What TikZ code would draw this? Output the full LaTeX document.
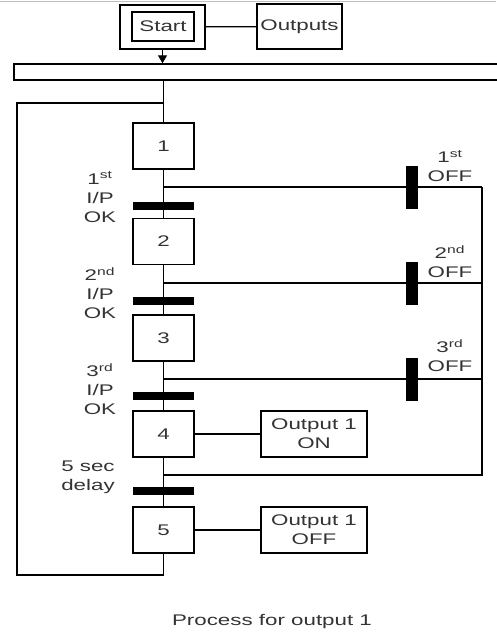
\documentclass[tikz,border=0pt]{standalone}
\usepackage{fontspec}
\setmainfont{Liberation Sans}
\usetikzlibrary{arrows.meta}

\begin{document}
\begin{tikzpicture}[x=1pt, y=-1pt,
    every node/.style={text=black!80, font=\fontsize{15.4}{19}\selectfont},
    box/.style={draw, line width=1.5pt, inner sep=0pt, xscale=1.45},
    stepbox/.style={box, minimum width=42pt, minimum height=46pt},
    outbox/.style={box, align=center, minimum width=73.1pt, minimum height=46pt},
    tbar/.style={fill=black, inner sep=0pt, minimum width=61pt, minimum height=8pt},
    offbar/.style={fill=black, inner sep=0pt, minimum width=12pt, minimum height=43pt},
    lbl/.style={align=center, inner sep=0pt, xscale=1.45},
    wire/.style={line width=1.3pt}]
   \useasboundingbox (0,0) rectangle (496,632);
   \draw[gray!50] (0,1) -- (496,1);

   \node[box, minimum width=58.6pt, minimum height=44pt] (start) at (162.5,27) {};
   \node[box, minimum width=42.8pt, minimum height=29pt] (startlbl) at (163,26.5) {Start};
   \node[box, minimum width=58.6pt, minimum height=45pt] (outputs) at (299.5,26.5) {Outputs};
   \node[draw, line width=1.5pt, inner sep=0pt, anchor=west,
         minimum width=530pt, minimum height=16pt] (sync) at (13,72) {};

   \node[stepbox] (s1) at (163.5,146) {1};
   \node[stepbox] (s2) at (163.5,241.5) {2};
   \node[stepbox] (s3) at (163.5,338) {3};
   \node[stepbox] (s4) at (163.5,434) {4};
   \node[stepbox] (s5) at (163.5,530) {5};

   \node[tbar] (t1) at (163.5,206) {};
   \node[tbar] (t2) at (163.5,301) {};
   \node[tbar] (t3) at (163.5,396) {};
   \node[tbar] (t4) at (163.5,491) {};

   \node[offbar] (o1) at (412,187) {};
   \node[offbar] (o2) at (412,283) {};
   \node[offbar] (o3) at (412,379) {};

   \node[outbox] (on)  at (314,434) {Output 1\\ON};
   \node[outbox] (off) at (314,530) {Output 1\\OFF};

   \node[lbl] (l1) at (100,197) {1\textsuperscript{st}\\I/P\\OK};
   \node[lbl] (l2) at (100,293) {2\textsuperscript{nd}\\I/P\\OK};
   \node[lbl] (l3) at (100,389) {3\textsuperscript{rd}\\I/P\\OK};
   \node[lbl] (l4) at (88,477.5) {5 sec\\delay};
   \node[lbl] (f1) at (450,166) {1\textsuperscript{st}\\OFF};
   \node[lbl] (f2) at (450,262) {2\textsuperscript{nd}\\OFF};
   \node[lbl] (f3) at (450,356) {3\textsuperscript{rd}\\OFF};
   \node[lbl] (caption) at (272,622) {Process for output 1};

   \coordinate (b1) at (163.5,187);
   \coordinate (b2) at (163.5,283);
   \coordinate (b3) at (163.5,379);
   \coordinate (j4) at (163.5,475);
   \coordinate (r1) at (482,187);
   \coordinate (r2) at (482,283);
   \coordinate (r3) at (482,379);
   \coordinate (r4) at (482,475);
   \coordinate (looptr) at (163.5,103);
   \coordinate (looptl) at (17,103);
   \coordinate (loopbl) at (17,575);
   \coordinate (loopbr) at (163.5,575);

   \draw[wire] (start) to (outputs);
   \draw[wire, -{Triangle[width=9pt,length=8pt]}] (start) to (start |- sync.north);
   \draw[wire] (sync.south -| s1.north) to (s1);
   \draw[wire] (s1) to (s2);
   \draw[wire] (s2) to (s3);
   \draw[wire] (s3) to (s4);
   \draw[wire] (s4) to (s5);
   \draw[wire] (b1) -- (o1) -- (r1);
   \draw[wire] (b2) -- (o2) -- (r2);
   \draw[wire] (b3) -- (o3) -- (r3);
   \draw[wire] (r1) -- (r4) -- (j4);
   \draw[wire] (s4) to (on);
   \draw[wire] (s5) to (off);
   \draw[wire] (s5) -- (loopbr) -- (loopbl) -- (looptl) -- (looptr);
 \end{tikzpicture}
\end{document}
